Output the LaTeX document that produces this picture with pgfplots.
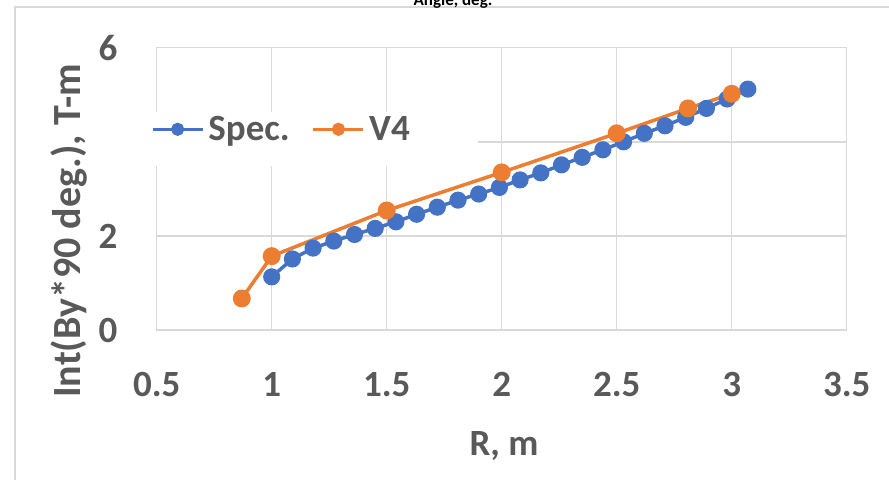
\documentclass[border=0pt]{standalone}
\usepackage{fontspec}
\setmainfont{Carlito}
\usepackage{pgfplots}
\pgfplotsset{compat=1.18}
\definecolor{specblue}{HTML}{4472C4}
\definecolor{vorange}{HTML}{ED7D31}
\definecolor{gridgray}{HTML}{D9D9D9}
\definecolor{labelgray}{HTML}{595959}

\begin{document}
\begin{tikzpicture}
\useasboundingbox (0,0) rectangle (889pt,480pt);
\fill[white] (0,0) rectangle (889pt,480pt);
% outer chart frame
\draw[gridgray, line width=1.2pt] (15pt,0) -- (15pt,473pt) -- (889pt,473pt);
\node[anchor=base, font=\fontsize{17}{20}\selectfont\bfseries, text=black] at (453pt,474pt) {Angle, deg.};
\begin{axis}[
  at={(156.7pt,150pt)}, anchor=south west,
  scale only axis, width=690pt, height=282.3pt,
  xmin=0.5, xmax=3.5, ymin=0, ymax=6,
  xtick={0.5,1,1.5,2,2.5,3,3.5},
  xticklabels={0.5,1,1.5,2,2.5,3,3.5},
  ytick={0,2,4,6}, yticklabels={0,2,,6},
  grid=major,
  major grid style={draw=gridgray, line width=1.5pt},
  axis line style={draw=gridgray, line width=1.5pt},
  major tick length=0pt,
  /pgf/number format/assume math mode=true,
  tick label style={font=\fontsize{37}{44}\selectfont\bfseries, text=labelgray, inner sep=0pt},
  xticklabel style={anchor=north, yshift=-42pt},
  yticklabel style={anchor=east, xshift=-39pt},
  clip=false,
  legend columns=2,
  legend style={at={(axis description cs:-0.0087,0.711)}, anchor=west,
    draw=none, fill=none, inner sep=0pt,
    nodes={inner sep=0pt, font=\fontsize{37}{44}\selectfont\bfseries, text=labelgray},
    /tikz/every odd column/.append style={column sep=4pt},
    /tikz/every even column/.append style={column sep=22pt}},
  legend image code/.code={\draw[mark repeat=2, mark phase=2, mark size=4.8pt]
    plot coordinates {(0pt,0pt) (25pt,0pt) (50pt,0pt)};},
]
% white panel behind the legend
\fill[white] (axis cs:0.2,4.63) rectangle (axis cs:1.897,3.49);

\addplot[specblue, line width=3.5pt, mark=*, mark size=6.8pt,
  mark options={draw=none, fill=specblue}] coordinates {
  (1.00,1.13) (1.09,1.51) (1.18,1.74) (1.27,1.89) (1.36,2.03) (1.45,2.16)
  (1.54,2.30) (1.63,2.46) (1.72,2.61) (1.81,2.76) (1.90,2.89) (1.99,3.03)
  (2.08,3.19) (2.17,3.34) (2.26,3.51) (2.35,3.67) (2.44,3.83) (2.53,4.00)
  (2.62,4.18) (2.71,4.34) (2.80,4.52) (2.89,4.71) (2.98,4.91) (3.07,5.12)
};
\addlegendentry{Spec.}

\addplot[vorange, line width=3.5pt, mark=*, mark size=7.2pt,
  mark options={draw=none, fill=vorange}] coordinates {
  (0.87,0.67) (1.00,1.57) (1.50,2.54) (2.00,3.35) (2.50,4.18) (2.81,4.71) (3.00,5.02)
};
\addlegendentry{V4}
\end{axis}
\node[anchor=base, font=\fontsize{37}{44}\selectfont\bfseries, text=labelgray] at (504pt,25pt) {R, m};
\node[rotate=90, font=\fontsize{40}{48}\selectfont\bfseries, text=labelgray] at (69pt,249pt) {Int(By*90 deg.), T-m};
\end{tikzpicture}
\end{document}
